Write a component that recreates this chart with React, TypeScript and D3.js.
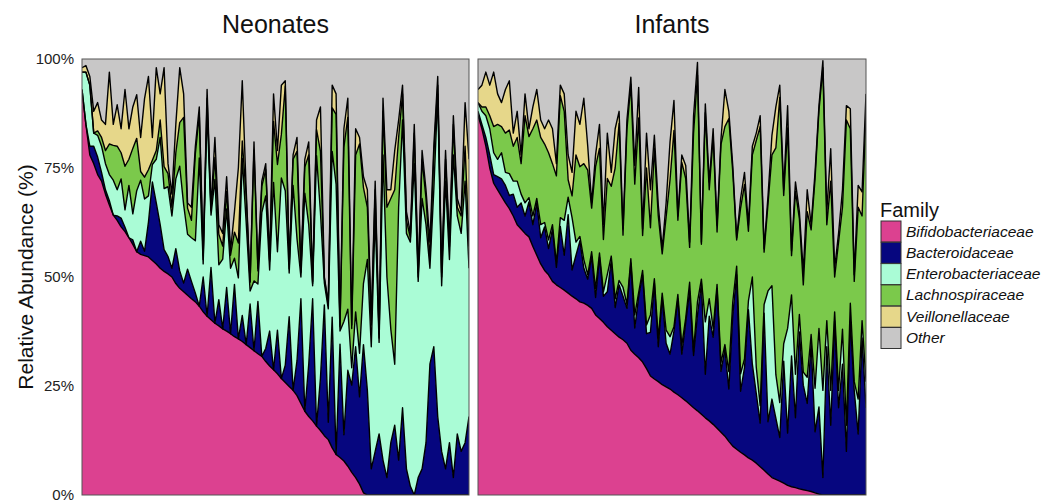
import * as d3 from "d3";

const FAMILIES = [
  "Bifidobacteriaceae",
  "Bacteroidaceae",
  "Enterobacteriaceae",
  "Lachnospiraceae",
  "Veillonellaceae",
  "Other",
];
const FAMILY_COLORS = ["#dc4190", "#06067f", "#aafcd6", "#7bc94b", "#e6d78a", "#c8c7c7"];
const Y_TICKS = [0, 25, 50, 75, 100];

// Neonates, one value per sample (% of reads)
const neoBifido = [93,85,78,76,73.5,72,69,66.5,64.2,63,
  61.5,60.4,59,57.5,55.8,55.2,54.9,54.6,53.8,53,
  52,51.3,50.7,50,48.5,47.4,46.6,45.8,45,44.3,
  43.3,42,41,40.2,39.4,38.8,38.1,37.6,37,36.3,
  35.8,35.2,34.5,33.8,33.1,32.4,31.8,30.6,29.6,28.7,
  27.8,26.7,25.8,24.9,24,22.8,21,19.2,18,17,
  15.8,14.8,13.6,12.7,10.8,9.3,8.6,7.8,6.6,5.2,
  4,2.5,0.5,0,0,0,0,0,0,0,
  0,0,0,0,0,0,0,0,0,0,
  0,0,0,0,0,0,0,0,0,0];
const neoBacteroid = [0,0,2,4,4,2,1,1,0,1,
  2,1,0,1,0,3,1,8,18,14,
  10,5,4,2,8,4,2,6,4,2,
  0,8,0,12,0,6,0,10,0,12,
  0,6,0,10,0,12,0,3,8,0,
  10,0,4,16,0,8,24,0,12,28,
  0,12,30,4,30,0,26,6,22,20,
  30,20,34,24,6,10,14,8,4,12,
  16,8,20,6,2,0,4,6,12,30,
  34,18,10,6,12,4,14,10,12,18];
const neoEntero = [4,12,14,3,5,6,6,6,8,6,
  9,4,12,6,14,14,12,6,4,10,
  20,14,16,12,16,24,18,8,10,12,
  34,3,47,12,33,8,16,18,15,6,
  14,36,28,3,16,4,33,35,14,43,
  18,46,40,10,47,28,5,50,32,3,
  62,38,5,26,38,62,3,26,14,4,
  8,10,14,30,28,54,21,70,46,26,
  14,58,66,54,56,76,45,62,50,22,
  36,74,38,66,42,74,50,50,60,34];
const neoLachno = [0,0,0,0,1,2,3,7,8,10,
  6,10,6,15,12,2,5,6,1,2,
  4,5,3,2,6,10,20,6,4,20,
  10,1,3,1,5,7,3,4,3,6,
  8,4,6,2,30,3,6,6,2,14,
  20,10,24,1,6,20,1,6,16,0.5,
  6,14,1,1,10,16,1,40,44,9,
  36,48,22,12,5,6,1,10,16,30,
  40,16,6,3,1,7,1,9,6,2,
  8,2,2,5,3,7,2,4,8,5];
const neoVeillo = [1,1.5,2,5,6.5,4,6,16.5,4.8,9.5,
  5.5,17.6,7,9.5,10,7.8,18,21.4,5.2,19,
  6,22.7,2.3,3,6.5,12.6,5.4,1.2,3,1.7,
  1.7,1,2,0.8,4.6,2.2,2.9,3.4,1,4.7,
  17.2,13.8,1.5,0.2,1.9,0.6,1.2,1.4,0.4,6.3,
  3.2,11.3,1.2,1.1,1,3.2,1,1.8,3,0.5,
  2.2,10.2,0.4,0.3,5.2,4.7,0.4,4.2,4.4,0.8,
  6,1.5,2.5,4,1,2,1,3,4,2,
  9,4,2,2,1,2,1,2,2,4,
  2,2,1,2,1,2,2,1,10,20];

// Infants
const infBifido = [87,84,80,75,71.5,70,68.5,67,65.7,64,
  62,61,60,59.2,57,55,53,51.5,50.5,49,
  48.2,47.6,47,46.3,45.6,45,44.3,44,43.5,42.8,
  41.3,40.5,39.6,38.6,37.8,37,36.2,35.6,34.8,33.2,
  32.3,31.5,30.5,29,27.3,26.6,26,25.3,24.8,24.3,
  23.6,23,22.3,21.6,20.8,20,19.3,18.5,17.7,17,
  16.2,15.3,14.4,13.5,12.3,11.2,10.5,9.8,9.2,8.5,
  8,7.3,6.5,5.7,4.8,4,3.6,3.2,2.7,2.2,
  1.9,1.7,1.4,1.2,1,0.8,0.5,0.2,0,0,
  0,0,0,0,0,0,0,0,0,0];
const infBacteroid = [1,1,2,3,2,3,4,4,3,5,
  4,6,4,8,5,12,6,10,6,12,
  4,14,8,18,6,10,14,8,6,12,
  4,14,6,8,16,6,12,10,8,20,
  6,14,20,8,10,22,8,20,10,8,
  14,22,10,18,26,12,22,30,10,24,
  20,32,14,20,12,30,40,14,20,34,
  22,16,10,36,12,18,14,10,28,12,
  30,16,36,24,20,34,14,20,4,34,
  16,40,20,30,10,40,24,14,36,20];
const infEntero = [2,3,5,6,5,4,6,3,5,3,
  6,2,3,1,2,1,3,1,2,1,
  1,2,8,4,12,3,1,2,1,1,
  2,1,1,4,1,2,1,2,1,1,
  3,1,1,2,4,1,2,1,3,4,
  1,1,2,1,2,1,3,1,12,4,
  2,1,2,1,4,3,2,4,2,2,
  20,6,4,2,30,26,10,8,4,24,
  14,10,4,3,6,2,10,18,20,6,
  8,2,4,8,6,4,2,8,4,6];
const infLachno = [0,1,2,3,6,8,6,9,10,8,
  10,7,20,14,20,18,20,18,20,14,
  20,28,25,4,5,20,16,22,24,10,
  28,24,12,22,16,30,36,12,40,40,
  30,40,8,36,20,30,28,9,26,36,
  45,17,42,32,8,50,52,8,48,25,
  44,12,50,50,58,30,6,38,40,16,
  28,52,64,12,20,30,52,70,34,46,
  9,42,22,20,38,24,48,50,74,22,
  48,8,34,28,70,40,23,44,24,62];
const infVeillo = [3,5,8,7,12.5,7,5.5,10,11.3,3,
  6,2,5,1.8,5,7,4,3.5,7.5,8,
  2.8,2.4,4,5.7,5.4,10,9.7,15,5.5,1.2,
  2.7,5.5,3.4,10.4,3.2,9,2.8,1.4,2.2,1.6,
  4.3,7,1.5,8,8.7,2.9,2.5,1.2,3.2,8.7,
  6.9,1,1.7,3,1.2,4,2.9,0.5,2,1.8,
  1.8,1.6,1.3,8.5,1.7,1.4,0.5,2.2,2.8,1.4,
  2,1.7,2.5,0.8,1.8,4.5,9.4,2.8,1.3,5.1,
  1.1,2.1,1.6,3,5,1.2,1.5,1.1,1.6,3,
  7.4,2,2,4,3.3,4.6,1.5,5,5.5,4];

const buildRows = (series) =>
  series[0].map((_, i) => {
    const row = { idx: i };
    let sum = 0;
    series.forEach((arr, k) => {
      row[FAMILIES[k]] = arr[i];
      sum += arr[i];
    });
    row.Other = Math.max(0, 100 - sum);
    return row;
  });

const PANELS = [
  { title: "Neonates", x0: 82, x1: 469, rows: buildRows([neoBifido, neoBacteroid, neoEntero, neoLachno, neoVeillo]) },
  { title: "Infants", x0: 478, x1: 866, rows: buildRows([infBifido, infBacteroid, infEntero, infLachno, infVeillo]) },
];

const FONT = "'Liberation Sans', Arial, Helvetica, sans-serif";
const yScale = d3.scaleLinear().domain([0, 100]).range([495, 59]);

const Panel = ({ title, x0, x1, rows, id }) => {
  const xScale = d3.scaleLinear().domain([0, rows.length - 1]).range([x0, x1]);
  const stacked = d3.stack().keys(FAMILIES)(rows);
  const area = d3.area()
    .x((d) => xScale(d.data.idx))
    .y0((d) => yScale(d[0]))
    .y1((d) => yScale(d[1]));
  const upper = d3.line()
    .x((d) => xScale(d.data.idx))
    .y((d) => yScale(d[1]));
  const [top, bottom] = yScale.range().slice().reverse();

  return (
    <g>
      <text x={(x0 + x1) / 2} y={33} textAnchor="middle" fontSize={25} fontFamily={FONT} fill="#111">
        {title}
      </text>
      <clipPath id={id}>
        <rect x={x0} y={top} width={x1 - x0} height={bottom - top} />
      </clipPath>
      <g clipPath={`url(#${id})`}>
        {stacked.map((s, k) => (
          <path key={s.key} d={area(s)} fill={FAMILY_COLORS[k]} />
        ))}
        {stacked.slice(0, FAMILIES.length - 1).map((s) => (
          <path key={s.key + "-line"} d={upper(s)} fill="none" stroke="#000" strokeWidth={1.4} strokeLinejoin="round" />
        ))}
      </g>
      <rect x={x0} y={top} width={x1 - x0} height={bottom - top} fill="none" stroke="#555" strokeWidth={1} />
    </g>
  );
};

export default function App() {
  return (
    <svg width={1054} height={502} style={{ position: "absolute", left: 0, top: 0, background: "#fff" }}>
      {PANELS.map((p, i) => (
        <Panel key={p.title} id={`clip-${i}`} {...p} />
      ))}
      {Y_TICKS.map((t) => (
        <text key={t} x={74} y={yScale(t)} dy="0.35em" textAnchor="end" fontSize={15} fontFamily={FONT} fill="#222">
          {t}%
        </text>
      ))}
      <text
        transform={`translate(33, ${yScale(50)}) rotate(-90)`}
        textAnchor="middle"
        fontSize={21}
        fontFamily={FONT}
        fill="#111"
      >
        Relative Abundance (%)
      </text>
      <g>
        <text x={880} y={217} fontSize={20} fontFamily={FONT} fill="#111">Family</text>
        {FAMILIES.map((f, k) => (
          <g key={f} transform={`translate(881, ${221 + k * 21.3})`}>
            <rect width={20} height={21} fill={FAMILY_COLORS[k]} stroke="#333" strokeWidth={1} />
            <text x={25} y={15.5} fontSize={15.5} fontStyle="italic" fontFamily={FONT} fill="#111">{f}</text>
          </g>
        ))}
      </g>
    </svg>
  );
}
